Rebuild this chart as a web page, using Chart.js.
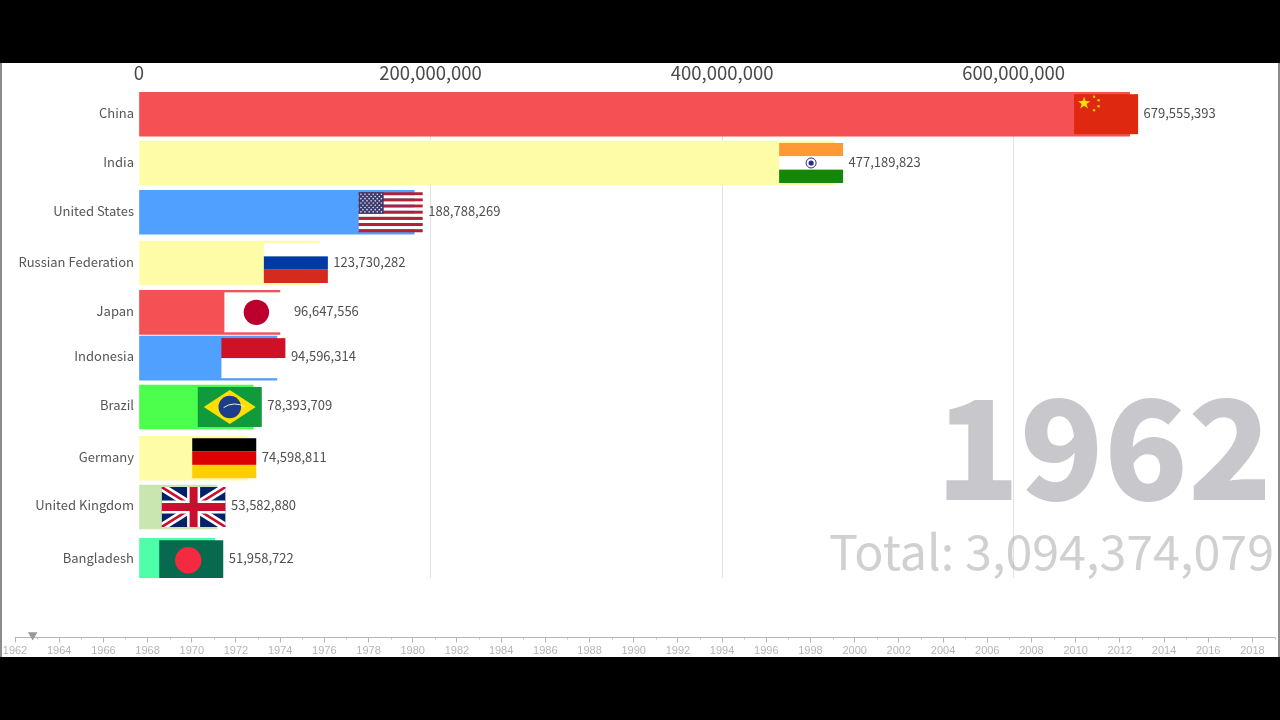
<!DOCTYPE html>
<html>
<head>
<meta charset="utf-8">
<title>Population by country 1962</title>
<script src="https://cdn.jsdelivr.net/npm/chart.js@4/dist/chart.umd.min.js"></script>
<style>
  html, body { margin: 0; padding: 0; background: #000; overflow: hidden; }
  #stage { position: absolute; left: 0; top: 63px; width: 1280px; height: 594px; background: #fff; }
  #stage:before, #stage:after { content: ''; position: absolute; top: 0; bottom: 0; width: 2px; background: #8c8c8c; z-index: 2; }
  #stage:before { left: 0; }
  #stage:after { right: 0; }
  #barCanvas { position: absolute; left: 0; top: 0; }
  #timeCanvas { position: absolute; left: 0; top: 562px; }
</style>
</head>
<body>
<div id="stage">
  <canvas id="barCanvas" width="1280" height="594"></canvas>
  <canvas id="timeCanvas" width="1280" height="32"></canvas>
</div>
<script>
const countries = ['China', 'India', 'United States', 'Russian Federation', 'Japan', 'Indonesia', 'Brazil', 'Germany', 'United Kingdom', 'Bangladesh'];
const population = [679555393, 477189823, 188788269, 123730282, 96647556, 94596314, 78393709, 74598811, 53582880, 51958722];
// rows are caught mid-swap in this frame, so the ranks are not whole numbers
// and the labels lag slightly behind their bars
const ranks = [0, 0.99, 1.99, 3.02, 4.02, 4.95, 5.94, 6.98, 7.97, 9.05];
const labelRanks = [-0.02, 0.97, 1.97, 3.0, 4.0, 4.91, 5.9, 6.95, 7.93, 9.01];
const barColors = ['#f55053', '#fffca8', '#4fa0ff', '#fffca8', '#f55053', '#4fa0ff', '#4cff4c', '#fffca8', '#c9e6b0', '#4dffa8'];
const flagNames = ['cn', 'in', 'us', 'ru', 'jp', 'id', 'br', 'de', 'gb', 'bd'];
const xTicks = [0, 200000000, 400000000, 600000000];
const currentYear = '1962';
const totalPopulation = 'Total: 3,094,374,079';
const pointerYear = 1962.8;

const FONT = '"Noto Sans CJK SC", "Noto Sans", sans-serif';
const FLAG_W = 64, FLAG_H = 40;

function stripes(ctx, x, y, w, h, colors) {
  colors.forEach((c, i) => {
    ctx.fillStyle = c;
    ctx.fillRect(x, y + h * i / colors.length, w, h / colors.length);
  });
}

function dot(ctx, x, y, r, color) {
  ctx.fillStyle = color;
  ctx.beginPath();
  ctx.arc(x, y, r, 0, Math.PI * 2);
  ctx.fill();
}

function star(ctx, cx, cy, r, color) {
  ctx.fillStyle = color;
  ctx.beginPath();
  for (let i = 0; i < 10; i++) {
    const a = -Math.PI / 2 + i * Math.PI / 5;
    const d = i % 2 ? r * 0.4 : r;
    ctx.lineTo(cx + Math.cos(a) * d, cy + Math.sin(a) * d);
  }
  ctx.closePath();
  ctx.fill();
}

const flags = {
  cn(ctx, x, y, w, h) {
    ctx.fillStyle = '#de2910';
    ctx.fillRect(x, y, w, h);
    star(ctx, x + 10, y + 9, 6.5, '#ffde00');
    [[20, 2.5], [24.5, 6], [24.5, 12], [20, 16]].forEach(p => dot(ctx, x + p[0], y + p[1], 1.2, '#ffc400'));
  },
  in(ctx, x, y, w, h) {
    stripes(ctx, x, y, w, h, ['#ff9933', '#ffffff', '#138808']);
    ctx.strokeStyle = '#2b2b8c';
    ctx.lineWidth = 1;
    ctx.beginPath();
    ctx.arc(x + w / 2, y + h / 2, 5, 0, Math.PI * 2);
    ctx.stroke();
    dot(ctx, x + w / 2, y + h / 2, 2.6, '#2b2b8c');
  },
  us(ctx, x, y, w, h) {
    const rows = [];
    for (let i = 0; i < 13; i++) rows.push(i % 2 ? '#ffffff' : '#b22234');
    stripes(ctx, x, y, w, h, rows);
    ctx.fillStyle = '#3c3b6e';
    ctx.fillRect(x, y, 25, h * 7 / 13);
    for (let r = 0; r < 9; r++) {
      for (let c = 0; c < (r % 2 ? 5 : 6); c++) {
        dot(ctx, x + 2.2 + c * 4.1 + (r % 2 ? 2 : 0), y + 2 + r * 2.2, 0.8, '#e6e6f2');
      }
    }
  },
  ru(ctx, x, y, w, h) {
    stripes(ctx, x, y, w, h, ['#ffffff', '#0039a6', '#d52b1e']);
  },
  jp(ctx, x, y, w, h) {
    ctx.fillStyle = '#ffffff';
    ctx.fillRect(x, y, w, h);
    dot(ctx, x + w / 2, y + h / 2, 12.7, '#bc002d');
  },
  id(ctx, x, y, w, h) {
    stripes(ctx, x, y, w, h, ['#ce1126', '#ffffff']);
  },
  br(ctx, x, y, w, h) {
    ctx.fillStyle = '#109a3c';
    ctx.fillRect(x, y, w, h);
    ctx.fillStyle = '#fedf00';
    ctx.beginPath();
    ctx.moveTo(x + 6, y + h / 2);
    ctx.lineTo(x + w / 2, y + 3);
    ctx.lineTo(x + w - 6, y + h / 2);
    ctx.lineTo(x + w / 2, y + h - 3);
    ctx.closePath();
    ctx.fill();
    dot(ctx, x + w / 2, y + h / 2, 11.3, '#1c3d8c');
    ctx.strokeStyle = '#e8eef0';
    ctx.lineWidth = 1;
    ctx.beginPath();
    ctx.arc(x + w / 2 + 5, y + h / 2 + 16, 19, -2.2, -1.0);
    ctx.stroke();
  },
  de(ctx, x, y, w, h) {
    stripes(ctx, x, y, w, h, ['#000000', '#dd0000', '#ffce00']);
  },
  gb(ctx, x, y, w, h) {
    ctx.save();
    ctx.beginPath();
    ctx.rect(x, y, w, h);
    ctx.clip();
    ctx.fillStyle = '#012169';
    ctx.fillRect(x, y, w, h);
    const diagonals = (color, width) => {
      ctx.strokeStyle = color;
      ctx.lineWidth = width;
      ctx.beginPath();
      ctx.moveTo(x, y);
      ctx.lineTo(x + w, y + h);
      ctx.moveTo(x + w, y);
      ctx.lineTo(x, y + h);
      ctx.stroke();
    };
    diagonals('#ffffff', 8);
    diagonals('#c8102e', 2.6);
    ctx.fillStyle = '#ffffff';
    ctx.fillRect(x + w / 2 - 6.5, y, 13, h);
    ctx.fillRect(x, y + h / 2 - 6.5, w, 13);
    ctx.fillStyle = '#c8102e';
    ctx.fillRect(x + w / 2 - 4, y, 8, h);
    ctx.fillRect(x, y + h / 2 - 4, w, 8);
    ctx.restore();
  },
  bd(ctx, x, y, w, h) {
    ctx.fillStyle = '#076a4f';
    ctx.fillRect(x, y, w, h);
    dot(ctx, x + 29, y + h / 2, 13.2, '#f42a41');
  }
};

// flags and value labels sit on the end of each bar
const barEndPlugin = {
  id: 'barEnd',
  afterDatasetsDraw(chart) {
    const ctx = chart.ctx;
    const area = chart.chartArea;
    const bars = chart.getDatasetMeta(0).data;
    ctx.save();
    ctx.beginPath();
    ctx.rect(area.left, area.top, area.width, area.height);
    ctx.clip();
    bars.forEach((bar, i) => {
      flags[flagNames[i]](ctx, bar.x + 8.5 - FLAG_W, bar.y - FLAG_H / 2, FLAG_W, FLAG_H);
    });
    ctx.restore();
    ctx.save();
    ctx.font = '13px ' + FONT;
    ctx.fillStyle = '#505050';
    ctx.textAlign = 'left';
    ctx.textBaseline = 'middle';
    bars.forEach((bar, i) => {
      ctx.fillText(population[i].toLocaleString('en-US'), bar.x + 14, chart.scales.y.getPixelForValue(labelRanks[i]));
    });
    ctx.restore();
  }
};

const yearPlugin = {
  id: 'yearText',
  beforeDatasetsDraw(chart) {
    const ctx = chart.ctx;
    ctx.save();
    ctx.textAlign = 'right';
    ctx.textBaseline = 'alphabetic';
    ctx.fillStyle = 'rgba(150, 148, 155, 0.52)';
    ctx.font = '900 138px ' + FONT;
    ctx.fillText(currentYear, 1272, 437);
    ctx.font = '48.4px ' + FONT;
    ctx.fillStyle = 'rgba(150, 148, 155, 0.45)';
    ctx.fillText(totalPopulation, 1274, 507);
    ctx.restore();
  }
};

new Chart(document.getElementById('barCanvas'), {
  type: 'bar',
  data: {
    datasets: [{
      data: ranks.map((r, i) => ({ x: population[i], y: r })),
      backgroundColor: barColors,
      barThickness: 44
    }]
  },
  plugins: [yearPlugin, barEndPlugin],
  options: {
    indexAxis: 'y',
    responsive: false,
    animation: false,
    devicePixelRatio: 1,
    layout: { padding: { right: 120.6, bottom: 79 } },
    plugins: { legend: { display: false }, tooltip: { enabled: false } },
    scales: {
      x: {
        type: 'linear',
        position: 'top',
        min: 0,
        max: 700000000,
        afterFit: scale => { scale.height = 29; },
        afterBuildTicks: scale => { scale.ticks = xTicks.map(v => ({ value: v })); },
        border: { display: false },
        grid: {
          drawTicks: false,
          color: ctx => (ctx.tick && ctx.tick.value === 0 ? 'transparent' : '#e2e2e4')
        },
        ticks: {
          padding: 8,
          maxRotation: 0,
          color: '#4a4a4a',
          font: { family: FONT, size: 18.5 },
          callback: v => v.toLocaleString('en-US')
        }
      },
      y: {
        type: 'linear',
        reverse: true,
        offset: false,
        min: -0.45,
        max: 9.41,
        afterFit: scale => { scale.width = 139; },
        afterBuildTicks: scale => { scale.ticks = labelRanks.map(v => ({ value: v })); },
        border: { display: false },
        grid: { display: false, drawTicks: false },
        ticks: {
          padding: 5,
          autoSkip: false,
          color: '#555555',
          font: { family: FONT, size: 13 },
          callback: v => countries[labelRanks.indexOf(v)]
        }
      }
    }
  }
});

// timeline strip along the bottom, one small tick per year
const minorTickPlugin = {
  id: 'minorTicks',
  afterDraw(chart) {
    const scale = chart.scales.x;
    const ctx = chart.ctx;
    ctx.save();
    ctx.strokeStyle = '#bdbdbd';
    ctx.lineWidth = 1;
    scale.ticks.forEach(t => {
      if (t.value % 2 === 0) return;
      const px = Math.round(scale.getPixelForValue(t.value)) + 0.5;
      ctx.beginPath();
      ctx.moveTo(px, chart.chartArea.bottom);
      ctx.lineTo(px, chart.chartArea.bottom + 2);
      ctx.stroke();
    });
    ctx.restore();
  }
};

new Chart(document.getElementById('timeCanvas'), {
  type: 'scatter',
  data: {
    datasets: [{
      data: [{ x: pointerYear, y: 0.36 }],
      pointStyle: 'triangle',
      rotation: 180,
      radius: 5.5,
      backgroundColor: '#999999',
      borderWidth: 0,
      clip: false
    }]
  },
  plugins: [minorTickPlugin],
  options: {
    responsive: false,
    animation: false,
    devicePixelRatio: 1,
    layout: { padding: { left: 15, right: 5.3 } },
    plugins: { legend: { display: false }, tooltip: { enabled: false } },
    scales: {
      x: {
        type: 'linear',
        min: 1962,
        max: 2019,
        afterFit: scale => { scale.height = 19.5; },
        border: { display: true, color: '#b5b5b5' },
        grid: {
          drawOnChartArea: false,
          tickLength: 5,
          tickColor: ctx => (ctx.tick && ctx.tick.value % 2 ? 'transparent' : '#b5b5b5')
        },
        ticks: {
          stepSize: 1,
          autoSkip: false,
          maxRotation: 0,
          padding: 2,
          color: '#b5b5b5',
          font: { family: '"Liberation Sans", Arial, sans-serif', size: 11 },
          callback: v => (v % 2 === 0 ? String(v) : '')
        }
      },
      y: { display: false, min: 0, max: 1 }
    }
  }
});
</script>
</body>
</html>
